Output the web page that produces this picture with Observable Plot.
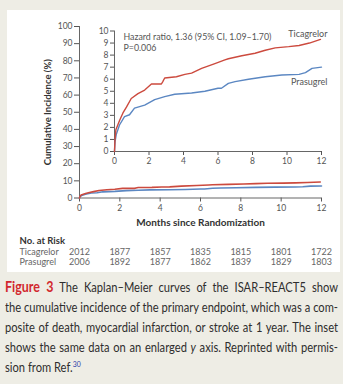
<!DOCTYPE html>
<html>
<head>
<meta charset="utf-8">
<script src="https://cdn.jsdelivr.net/npm/d3@7"></script>
<script src="https://cdn.jsdelivr.net/npm/@observablehq/plot@0.6"></script>
<style>
  html, body { margin: 0; padding: 0; }
  body { background: #eeede5; width: 343px; height: 384px; position: relative; overflow: hidden; }
  #panel { position: absolute; left: 7px; top: 10px; width: 333px; height: 262px; background: #ffffff; }
  #main, #inset { position: absolute; left: 0; top: 0; }
  #cap { position: absolute; left: 5px; top: 277px; width: 333px; color: #2e2e2e;
         font-family: Lato, sans-serif; font-size: 13px; transform-origin: 0 0; }
  #cap .l { text-align: justify; text-align-last: justify; line-height: 20px; height: 20px; }
  #cap .l.last { text-align-last: left; }
  #cap .fig { color: #d2282e; font-weight: bold; font-size: 1.12em; }
  #cap sup { color: #2b3aa6; font-size: 0.62em; line-height: 0; }
</style>
</head>
<body>
<div id="panel"></div>
<div id="main"></div>
<div id="inset"></div>
<div id="cap">
  <div class="l"><span class="fig">Figure 3</span> The Kaplan–Meier curves of the ISAR–REACT5 show</div>
  <div class="l">the cumulative incidence of the primary endpoint, which was a com-</div>
  <div class="l">posite of death, myocardial infarction, or stroke at 1 year. The inset</div>
  <div class="l">shows the same data on an enlarged <i>y</i> axis. Reprinted with permis-</div>
  <div class="l last">sion from Ref.<sup>30</sup></div>
</div>
<script>
// ---- data ----
const ticaMonths = [0, 0.03, 0.08, 0.19, 0.3, 0.49, 0.7, 0.97, 1.36, 1.75, 2.14, 2.3, 2.72, 2.8, 2.91, 3.59, 4.08, 4.47, 5.05, 5.82, 6.4, 6.6, 7.38, 8.15, 8.74, 9.32, 10.1, 10.7, 11.3, 11.94];
const ticaValues = [0, 1.0, 1.8, 2.2, 2.6, 3.2, 3.7, 4.4, 4.8, 5.1, 5.6, 5.6, 5.6, 5.8, 6.1, 6.2, 6.4, 6.5, 6.9, 7.3, 7.6, 7.7, 7.95, 8.15, 8.4, 8.6, 8.7, 8.8, 9.0, 9.3];
const prasMonths = [0, 0.03, 0.1, 0.29, 0.58, 0.87, 1.16, 1.75, 2.33, 2.91, 3.49, 4.47, 5.24, 6.0, 6.2, 6.6, 6.99, 7.77, 8.74, 9.7, 10.7, 11.07, 11.45, 12];
const prasValues = [0, 0.8, 1.4, 2.2, 2.9, 3.05, 3.6, 3.85, 4.3, 4.55, 4.75, 4.85, 5.0, 5.25, 5.25, 5.65, 5.8, 6.0, 6.2, 6.35, 6.4, 6.55, 6.9, 7.0];
const xTicks = [0, 2, 4, 6, 8, 10, 12];
const yTicksMain = [0, 10, 20, 30, 40, 50, 60, 70, 80, 90, 100];
const yTicksInset = [0, 1, 2, 3, 4, 5, 6, 7, 8, 9, 10];
const riskMonths = [0, 2, 4, 6, 8, 10, 12];
const riskTica = [2012, 1877, 1857, 1835, 1815, 1801, 1722];
const riskPras = [2006, 1892, 1877, 1862, 1839, 1829, 1803];
const seriesNames = ["Ticagrelor", "Prasugrel"];
const hazardText = "Hazard ratio, 1.36 (95% CI, 1.09–1.70)";
const pText = "P=0.006";

const RED = "#cc4a3e", BLUE = "#5b87c2";
const FONT = "Lato, 'Open Sans', sans-serif";

const tica = ticaMonths.map((m, i) => ({m, v: ticaValues[i]}));
const pras = prasMonths.map((m, i) => ({m, v: prasValues[i]}));
const riskRowT = riskMonths.map((m, i) => ({m, n: String(riskTica[i])}));
const riskRowP = riskMonths.map((m, i) => ({m, n: String(riskPras[i])}));

const H = 272;
const main = Plot.plot({
  width: 343, height: H,
  marginLeft: 79, marginRight: 22, marginTop: 26, marginBottom: H - 197.5,
  style: {background: "transparent", fontFamily: FONT, fontSize: "8.5px", color: "#555"},
  x: {domain: [0, 12], ticks: xTicks, tickSize: 4, tickPadding: 2.5, label: null},
  y: {domain: [0, 100], ticks: yTicksMain, tickSize: 5, tickPadding: 2, label: null},
  marks: [
    Plot.ruleX([0], {stroke: "#666"}),
    Plot.ruleY([0], {stroke: "#666"}),
    Plot.line(pras, {x: "m", y: "v", stroke: BLUE, strokeWidth: 1.6}),
    Plot.line(tica, {x: "m", y: "v", stroke: RED, strokeWidth: 1.6}),
    Plot.text(["Months since Randomization"], {frameAnchor: "bottom", dy: 27.5, fontWeight: "bold", fontSize: 10, fill: "#333"}),
    Plot.text(["Cumulative Incidence (%)"], {frameAnchor: "left", textAnchor: "middle", dx: -32, rotate: -90, fontWeight: "bold", fontSize: 9.5, fill: "#333"}),
    Plot.text(["No. at Risk"], {frameAnchor: "bottom-left", dx: -60, dy: 45.5, textAnchor: "start", fontWeight: "bold", fontSize: 9.5, fill: "#333"}),
    Plot.text([seriesNames[0]], {frameAnchor: "bottom-left", dx: -60, dy: 56.5, textAnchor: "start", fontSize: 9, fill: "#666"}),
    Plot.text([seriesNames[1]], {frameAnchor: "bottom-left", dx: -60, dy: 66.5, textAnchor: "start", fontSize: 9, fill: "#666"}),
    Plot.text(riskRowT, {x: "m", text: "n", frameAnchor: "bottom", dy: 56.5, fontSize: 9, fill: "#666"}),
    Plot.text(riskRowP, {x: "m", text: "n", frameAnchor: "bottom", dy: 66.5, fontSize: 9, fill: "#666"})
  ]
});
document.getElementById("main").append(main);

const inset = Plot.plot({
  width: 343, height: H,
  marginLeft: 114, marginRight: 22, marginTop: 30.5, marginBottom: H - 151,
  style: {background: "transparent", fontFamily: FONT, fontSize: "8.5px", color: "#555"},
  x: {domain: [0, 12], ticks: xTicks, tickSize: 4, tickPadding: 2.5, label: null},
  y: {domain: [0, 10], ticks: yTicksInset, tickSize: 4, tickPadding: 2, label: null},
  marks: [
    Plot.ruleX([0], {stroke: "#666"}),
    Plot.ruleY([0], {stroke: "#666"}),
    Plot.line(pras, {x: "m", y: "v", stroke: BLUE, strokeWidth: 1.4}),
    Plot.line(tica, {x: "m", y: "v", stroke: RED, strokeWidth: 1.4}),
    Plot.text([hazardText], {frameAnchor: "top-left", dx: 9, dy: 3, textAnchor: "start", fontSize: 8.8, fill: "#555"}),
    Plot.text([pText], {frameAnchor: "top-left", dx: 9, dy: 13.5, textAnchor: "start", fontSize: 8.8, fill: "#555"}),
    Plot.text([tica[tica.length - 1]], {x: "m", y: "v", text: () => seriesNames[0], dx: 7, dy: -5, textAnchor: "end", fontSize: 9, fill: "#555"}),
    Plot.text([pras[pras.length - 1]], {x: "m", y: "v", text: () => seriesNames[1], dx: 6, dy: 14.5, textAnchor: "end", fontSize: 9, fill: "#555"})
  ]
});
document.getElementById("inset").append(inset);

// condense caption: measure natural widths, widen the column, then squeeze horizontally
(function fitCaption() {
  const cap = document.getElementById("cap");
  const lines = [...cap.querySelectorAll(".l")];
  let max = 0;
  for (const l of lines) {
    const s = document.createElement("span");
    s.style.whiteSpace = "nowrap";
    while (l.firstChild) s.append(l.firstChild);
    l.append(s);
    max = Math.max(max, s.getBoundingClientRect().width);
    while (s.firstChild) l.append(s.firstChild);
    s.remove();
  }
  const target = 333;
  const w = Math.max(max + 1, target);
  cap.style.width = w + "px";
  cap.style.transform = `scaleX(${target / w})`;
})();
</script>
</body>
</html>
